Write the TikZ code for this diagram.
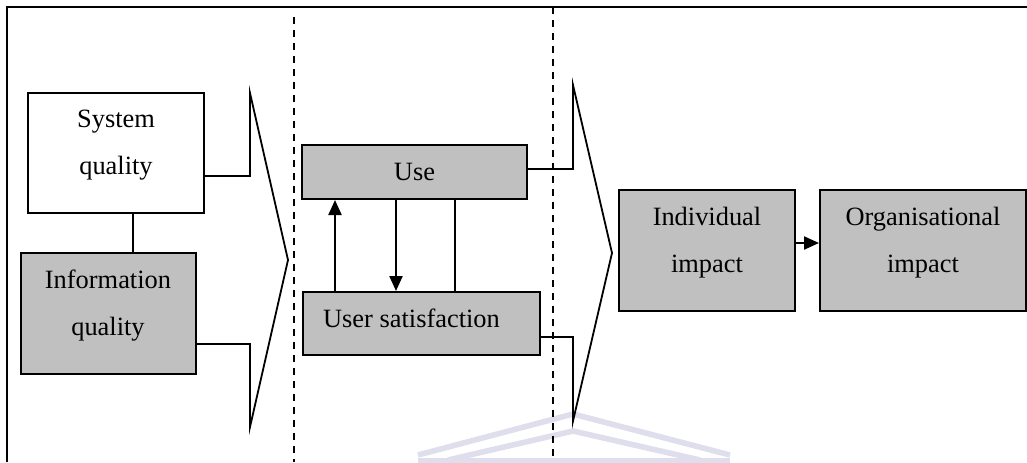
\documentclass[tikz,border=0pt]{standalone}
\usepackage{fontspec}
\setmainfont{Liberation Serif}
\usetikzlibrary{arrows.meta}

\definecolor{boxgray}{RGB}{192,192,192}
\definecolor{crest}{RGB}{222,222,236}

\begin{document}
\begin{tikzpicture}[
    x=0.5pt, y=-0.5pt,
    every node/.style={font=\fontsize{13.2}{23.5}\selectfont},
    blk/.style={draw, line width=1pt, inner sep=0pt},
    shaded/.style={blk, fill=boxgray},
    txt/.style={inner sep=0pt, align=center},
    link/.style={line width=0.9pt},
    arr/.style={line width=1.1pt, -{Triangle[length=7.5pt,width=6.5pt]}},
    divider/.style={line width=1.1pt, dash pattern=on 3.5pt off 3pt},
  ]
  \useasboundingbox (0,0) rectangle (1027,462);

  % faint crest at the foot of the page
  \draw[crest, line width=2.8pt, line join=miter]
    (418,455) -- (573,414) -- (730,455);
  \draw[crest, line width=2.8pt, line join=miter]
    (448,460) -- (573,431) -- (700,460);
  \draw[crest, line width=2.8pt] (418,461) -- (730,461);

  % open frame: top and left edges only
  \draw[line width=1.3pt] (1027,7) -- (7,7) -- (7,462);

  % stage dividers
  \draw[divider] (294,17) -- (294,462);
  \draw[divider] (553,7) -- (553,462);

  % boxes
  \node[blk, minimum width=88pt, minimum height=60pt] (sys) at (116,153) {};
  \node[shaded, minimum width=87.5pt, minimum height=60.5pt] (info) at (108.5,313.5) {};
  \node[shaded, minimum width=112.5pt, minimum height=27pt] (use) at (414.5,172) {};
  \node[shaded, minimum width=118.5pt, minimum height=31.5pt] (us) at (421.5,323.5) {};
  \node[shaded, minimum width=88pt, minimum height=60.5pt] (ind) at (707,250.5) {};
  \node[shaded, minimum width=103pt, minimum height=60.5pt] (org) at (923,250.5) {};

  % box texts
  \node[txt] (sysT) at (116,145.5) {System\\quality};
  \node[txt] (infoT) at (108,305.4) {Information\\quality};
  \node[txt, anchor=base] (useT) at (414.5,180) {Use};
  \node[txt, anchor=base] (usT) at (411.5,327) {User satisfaction};
  \node[txt] (indT) at (707,242.4) {Individual\\impact};
  \node[txt] (orgT) at (923,242.4) {Organisational\\impact};

  % quality link
  \draw[link] ([xshift=8.5pt]sys.south) -- ([xshift=8.5pt]sys.south |- info.north);

  % chevron gathering the two quality boxes
  \coordinate (lt) at (250,93);
  \coordinate (ltip) at (288,260);
  \coordinate (lb) at (250,427);
  \draw[link, line join=miter]
    ([yshift=-11.5pt]sys.east) -| (lt) -- (ltip) -- (lb) |- ([yshift=-15.25pt]info.east);

  % chevron gathering use and user satisfaction
  \coordinate (rt) at (573,85);
  \coordinate (rtip) at (612,253);
  \coordinate (rb) at (573,421);
  \draw[link, line join=miter]
    ([yshift=1.5pt]use.east) -| (rt) -- (rtip) -- (rb) |- ([yshift=-6.75pt]us.east);

  % links between use and user satisfaction
  \coordinate (a1) at ([xshift=17pt]use.south west);
  \coordinate (a2) at ([xshift=47.5pt]use.south west);
  \coordinate (a3) at ([xshift=77pt]use.south west);
  \draw[arr] (a1 |- us.north) -- (a1);
  \draw[arr] (a2) -- (a2 |- us.north);
  \draw[link] (a3) -- (a3 |- us.north);

  % individual to organisational impact
  \draw[arr] ([yshift=3.75pt]ind.east) -- ([yshift=3.75pt]org.west);
\end{tikzpicture}
\end{document}
